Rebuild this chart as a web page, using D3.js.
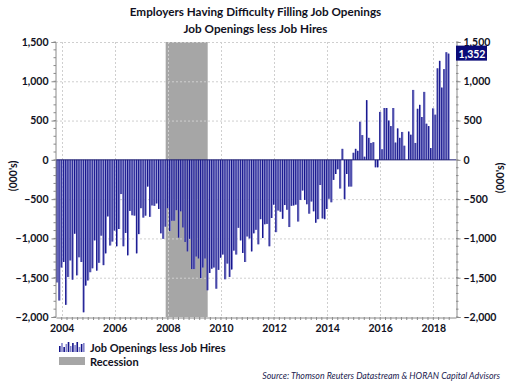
<!DOCTYPE html>
<html>
<head>
<meta charset="utf-8">
<script src="https://cdn.jsdelivr.net/npm/d3@7"></script>
<style>
  html, body { margin: 0; padding: 0; background: #fff; }
  svg { display: block; }
  text { font-family: Lato, "Liberation Sans", sans-serif; }
</style>
</head>
<body>
<svg id="chart" width="511" height="383"></svg>
<script>
// ---- Data (monthly, Nov 2003 .. Aug 2018), thousands ----
const startYear = 2003, startMonth = 11;
const values = [
  -1560, -1790, -1370, -1300, -1845, -1490, -1280, -1525, -940, -1470,
  -1240, -1300, -1940, -1600, -1535, -1430, -1380, -1025, -1410, -1310,
  -965, -1340, -1190, -720, -1090, -1040, -900, -1100, -880, -435,
  -1100, -930, -1215, -650, -705, -710, -1190, -945, -615, -735,
  -710, -340, -725, -580, -585, -555, -625, -935, -1005, -850,
  -615, -905, -775, -775, -640, -990, -655, -860, -1045, -1165,
  -1005, -1390, -1390, -1230, -1255, -1505, -1370, -1255, -1660, -1440,
  -1385, -1370, -1640, -1400, -1245, -1205, -1520, -1320, -1490, -1395,
  -1155, -1205, -865, -1025, -1185, -1300, -975, -1000, -1165, -935,
  -890, -1075, -755, -995, -820, -815, -1100, -740, -570, -920,
  -645, -660, -750, -575, -635, -855, -585, -580, -570, -785,
  -510, -390, -510, -565, -685, -530, -655, -800, -755,
  -320, -745, -755, -625, -495, -540, -255, -180, -120, -365,
  140, -500, -180, -340, -340, 90, 140, 115, 485, 315,
  40, 760, 280, 215, 225, -95, -95, 610, 135, 660,
  660, 500, 430, 660, 220, 400, 280, 355, 180, 0,
  360, 320, 890, 215, 650, 700, 545, 865, 460, 430,
  150, 655, 575, 1165, 1260, 920, 1155, 1370, 1352
];
const recessions = [{ start: 2007.917, end: 2009.5 }];
const yTicks = [1500, 1000, 500, 0, -500, -1000, -1500, -2000];
const xTickYears = [2004, 2006, 2008, 2010, 2012, 2014, 2016, 2018];
const titleLines = ["Employers Having Difficulty Filling Job Openings", "Job Openings less Job Hires"];
const seriesName = "Job Openings less Job Hires";
const recessionName = "Recession";
const axisTitle = "(000's)";
const sourceText = "Source: Thomson Reuters Datastream & HORAN Capital Advisors";
const legendIconHeights = [6, 9, 5, 8, 10, 6, 9, 7, 10, 5, 8, 9];

const data = values.map((v, i) => {
  const m = startMonth - 1 + i;
  return { t: startYear + Math.floor(m / 12) + (m % 12) / 12, v };
});

// ---- Layout ----
const svg = d3.select("#chart");
const L = 56, R = 456, T = 42, B = 317;
const x = d3.scaleLinear().domain([2003.785, 2018.855]).range([L, R]);
const y = d3.scaleLinear().domain([-2000, 1500]).range([B, T]);
const textColor = "#111122";
const axisColor = "#8a8a8a";

// recession shading
svg.selectAll("rect.rec").data(recessions).join("rect")
  .attr("x", d => x(d.start)).attr("width", d => x(d.end) - x(d.start))
  .attr("y", T).attr("height", B - T)
  .attr("fill", "#a6a6a6");

// grid
const g = svg.append("g");
g.selectAll("line.hg").data(yTicks.filter(d => d !== 0 && d !== -2000)).join("line")
  .attr("x1", L).attr("x2", R).attr("y1", d => y(d) + 0.5).attr("y2", d => y(d) + 0.5)
  .attr("stroke", "#cfcfcf").attr("stroke-dasharray", "2,2");
g.selectAll("line.vg").data(xTickYears).join("line")
  .attr("x1", d => Math.round(x(d)) + 0.5).attr("x2", d => Math.round(x(d)) + 0.5)
  .attr("y1", T).attr("y2", B)
  .attr("stroke", "#cfcfcf").attr("stroke-dasharray", "2,2");

// bars
const bars = svg.append("g");
bars.selectAll("rect").data(data).join("rect")
  .attr("x", d => x(d.t) - 1)
  .attr("width", 2)
  .attr("y", d => Math.min(y(d.v), y(0)))
  .attr("height", d => Math.abs(y(d.v) - y(0)))
  .attr("fill", "#8585cc");
bars.selectAll("line").data(data).join("line")
  .attr("x1", d => x(d.t) - 0.5).attr("x2", d => x(d.t) - 0.5)
  .attr("y1", d => y(d.v)).attr("y2", y(0))
  .attr("stroke", "#14148c").attr("stroke-width", 1);

// zero line
svg.append("line").attr("x1", L).attr("x2", R).attr("y1", y(0)).attr("y2", y(0))
  .attr("stroke", "#1a1a6e").attr("stroke-width", 1);

// left axis
const leftAxis = d3.axisLeft(y).tickValues(yTicks).tickSize(4).tickFormat(d3.format(","));
const la = svg.append("g").attr("transform", `translate(${L - 0.5},0)`).call(leftAxis);
const minorTicks = d3.range(-2000, 1501, 100);
const lm = svg.append("g");
lm.selectAll("line").data(minorTicks).join("line")
  .attr("x1", L - 2.5).attr("x2", L).attr("y1", d => y(d)).attr("y2", d => y(d))
  .attr("stroke", axisColor);
const rightAxis = d3.axisRight(y).tickValues(yTicks).tickSize(4).tickFormat(d3.format(","));
const ra = svg.append("g").attr("transform", `translate(${R + 0.5},0)`).call(rightAxis);
const rm = svg.append("g");
rm.selectAll("line").data(minorTicks).join("line")
  .attr("x1", R).attr("x2", R + 2.5).attr("y1", d => y(d)).attr("y2", d => y(d))
  .attr("stroke", axisColor);
[la, ra].forEach(a => {
  a.select(".domain").attr("stroke", axisColor);
  a.selectAll(".tick line").attr("stroke", axisColor);
  a.selectAll(".tick text").attr("fill", textColor).attr("font-size", 10.5)
    .attr("font-weight", "bold").style("font-family", "Lato, sans-serif");
});
la.selectAll(".tick text").attr("x", -7);
ra.selectAll(".tick text").attr("x", 7);

// bottom axis
const bottomAxis = d3.axisBottom(x).tickValues(xTickYears).tickSize(0).tickFormat(d3.format("d"));
const ba = svg.append("g").attr("transform", `translate(0,${B + 0.5})`).call(bottomAxis);
ba.select(".domain").attr("stroke", axisColor);
ba.selectAll(".tick text").attr("fill", textColor).attr("font-size", 10.5)
  .attr("font-weight", "bold").attr("dy", "1.1em").style("font-family", "Lato, sans-serif");
const bMinor = d3.range(2004, 2018.8, 0.2);
svg.append("g").selectAll("line").data(bMinor).join("line")
  .attr("x1", d => x(d)).attr("x2", d => x(d)).attr("y1", B).attr("y2", B + 3)
  .attr("stroke", axisColor);

// last value label
const last = data[data.length - 1];
const lbl = svg.append("g").attr("transform", `translate(${R},${y(last.v)})`);
lbl.append("rect").attr("x", 0).attr("y", -8).attr("width", 31).attr("height", 15).attr("fill", "#0a0a78");
lbl.append("text").attr("x", 16).attr("y", 4).attr("text-anchor", "middle")
  .attr("fill", "#fff").attr("font-size", 10.5).attr("font-weight", "bold")
  .text(d3.format(",")(last.v));

// titles
svg.selectAll("text.title").data(titleLines).join("text")
  .attr("x", 255.5).attr("y", (d, i) => 16 + i * 16.5)
  .attr("text-anchor", "middle").attr("font-size", 11.7).attr("font-weight", "bold")
  .attr("fill", textColor).text(d => d);

// axis titles
svg.append("text").attr("transform", "translate(17,176) rotate(-90)")
  .attr("text-anchor", "middle").attr("font-size", 10.5).attr("font-weight", "bold")
  .attr("fill", textColor).text(axisTitle);
svg.append("text").attr("transform", "translate(504,178) rotate(-90)")
  .attr("text-anchor", "middle").attr("font-size", 10.5).attr("font-weight", "bold")
  .attr("fill", textColor).text(axisTitle);

// legend
const lg = svg.append("g");
const iconX = d3.scaleLinear().domain([0, legendIconHeights.length - 1]).range([60, 84]);
lg.selectAll("rect").data(legendIconHeights).join("rect")
  .attr("x", (d, i) => iconX(i) - 1).attr("width", 1.6)
  .attr("y", d => 352 - d).attr("height", d => d)
  .attr("fill", (d, i) => i % 2 ? "#8585cc" : "#14148c");
lg.append("rect").attr("x", 59).attr("y", 357).attr("width", 26).attr("height", 8).attr("fill", "#a6a6a6");
lg.append("text").attr("x", 90).attr("y", 352).attr("font-size", 11).attr("font-weight", "bold")
  .attr("fill", textColor).text(seriesName);
lg.append("text").attr("x", 90).attr("y", 366).attr("font-size", 11).attr("font-weight", "bold")
  .attr("fill", textColor).text(recessionName);

// source
svg.append("text").attr("x", 500).attr("y", 379).attr("text-anchor", "end")
  .attr("font-size", 8.8).attr("font-style", "italic").attr("fill", "#1c1c50")
  .text(sourceText);
</script>
</body>
</html>
